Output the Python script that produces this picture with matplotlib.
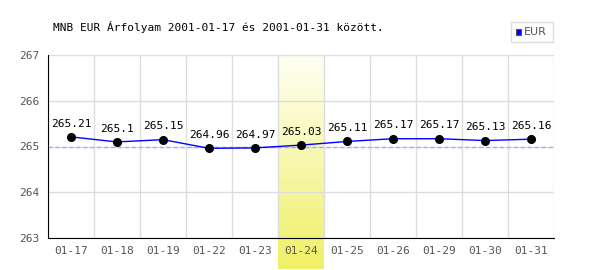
import numpy as np
import matplotlib.pyplot as plt
from matplotlib.patches import Rectangle

dates = ['01-17', '01-18', '01-19', '01-22', '01-23', '01-24',
         '01-25', '01-26', '01-29', '01-30', '01-31']
rates = [265.21, 265.1, 265.15, 264.96, 264.97, 265.03,
         265.11, 265.17, 265.17, 265.13, 265.16]
labels = ['265.21', '265.1', '265.15', '264.96', '264.97', '265.03',
          '265.11', '265.17', '265.17', '265.13', '265.16']
highlight = '01-24'
ref_level = 265.0

mono = 'DejaVu Sans Mono'

fig = plt.figure(figsize=(6, 2.7), dpi=100)
ax = fig.add_axes([48 / 600, 1 - 238 / 270, 506 / 600, 183 / 270])

x = np.arange(len(dates))
ax.set_xlim(-0.5, len(dates) - 0.5)
ax.set_ylim(263, 267)

# highlighted day, gradient from pale to yellow, running below the axis
hi = dates.index(highlight)
grad = np.linspace(0, 1, 256).reshape(-1, 1, 1)
top = np.array([1.0, 1.0, 0.96])
bot = np.array([0.94, 0.94, 0.40])
img = top + (bot - top) * grad
ax.imshow(img, extent=[hi - 0.5, hi + 0.5, 262.33, 267], aspect='auto',
          zorder=0, clip_on=False)

ax.set_xticks(x)
ax.set_xticklabels(dates)
ax.set_yticks([263, 264, 265, 266, 267])
ax.set_xticks(np.arange(-0.5, len(dates)), minor=True)
ax.grid(True, which='minor', axis='x', color='#dddddd', lw=1)
ax.grid(True, which='major', axis='y', color='#dddddd', lw=1)
ax.set_axisbelow(True)
ax.tick_params(which='both', length=0)
ax.tick_params(axis='both', labelsize=8, labelcolor='#555555', pad=6)
for t in ax.get_xticklabels() + ax.get_yticklabels():
    t.set_family(mono)

for s in ['top', 'right']:
    ax.spines[s].set_visible(False)
ax.spines['left'].set_color('black')
ax.spines['bottom'].set_color('black')
ax.patch.set_alpha(0)

ax.axhline(ref_level, color='#aaaaff', ls=(0, (3, 2)), lw=1, zorder=2)
ax.plot(x, rates, color='blue', lw=1, zorder=3, label='EUR')
ax.plot(x, rates, 'o', color='black', ms=5.5, zorder=4)
for xi, yi, lab in zip(x, rates, labels):
    ax.annotate(lab, (xi, yi), xytext=(0, 6), textcoords='offset points',
                ha='center', va='bottom', fontsize=8, family=mono)

fig.text(53 / 600, 1 - 27 / 270, 'MNB EUR Árfolyam 2001-01-17 és 2001-01-31 között.',
         fontsize=8, family=mono, va='center', ha='left')

fig.patches.append(Rectangle((511 / 600, 1 - 42 / 270), 42 / 600, 20 / 270,
                             transform=fig.transFigure, fill=False,
                             edgecolor='#dddddd', lw=1))
fig.patches.append(Rectangle((516 / 600, 1 - 35 / 270), 5 / 600, 6 / 270,
                             transform=fig.transFigure, facecolor='blue',
                             edgecolor='#555555', lw=0.8))
fig.text(524 / 600, 1 - 32 / 270, 'EUR', fontsize=8, color='#555555',
         va='center', ha='left')

fig.savefig('out.png', dpi=100)
